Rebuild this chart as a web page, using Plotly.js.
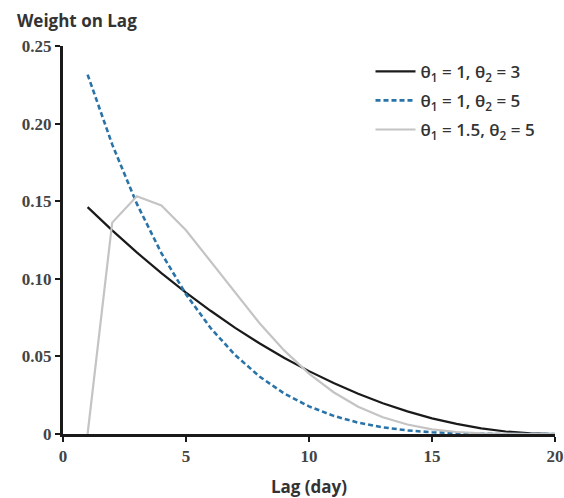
<!DOCTYPE html>
<html><head><meta charset="utf-8">
<script src="https://cdn.plot.ly/plotly-3.0.1.min.js"></script>
<style>body{margin:0;background:#fff}#chart{width:564px;height:498px}</style>
</head><body><div id="chart"></div>
<script>
const lags = [1,2,3,4,5,6,7,8,9,10,11,12,13,14,15,16,17,18,19,20];
const w_1_3 = [0.1462,0.1312,0.1170,0.1036,0.0911,0.0794,0.0684,0.0583,0.0490,0.0405,0.0328,0.0259,0.0198,0.0146,0.0101,0.0065,0.0036,0.0016,0.0004,0.0000];
const w_1_5 = [0.2316,0.1866,0.1484,0.1165,0.0900,0.0683,0.0508,0.0369,0.0260,0.0178,0.0117,0.0073,0.0043,0.0023,0.0011,0.0005,0.0001,0.0000,0.0000,0.0000];
const w_15_5 = [0.0000,0.1362,0.1532,0.1472,0.1313,0.1114,0.0908,0.0712,0.0537,0.0389,0.0269,0.0176,0.0108,0.0061,0.0030,0.0013,0.0004,0.0001,0.0000,0.0000];
const names = ['θ<sub>1</sub> = 1, θ<sub>2</sub> = 3','θ<sub>1</sub> = 1, θ<sub>2</sub> = 5','θ<sub>1</sub> = 1.5, θ<sub>2</sub> = 5'];
const xTicks = [0,5,10,15,20];
const yTicks = [0,0.05,0.10,0.15,0.20,0.25];
const yTickText = ['0','0.05','0.10','0.15','0.20','0.25'];

const traces = [
  {x:lags, y:w_1_3, name:names[0], legendgroup:'a', mode:'lines', line:{color:'#1a1a1a', width:2.2}},
  {x:lags, y:w_1_5, name:names[1], legendgroup:'b', mode:'lines', line:{color:'#2a73a8', width:2.6, dash:'5px,3px'}},
  {x:lags, y:w_15_5, name:names[2], legendgroup:'c', mode:'lines', line:{color:'#c4c4c4', width:2.2}}
];
const tickFont = {family:'Liberation Serif, serif', size:17, color:'#444'};
const layout = {
  width:564, height:498,
  margin:{l:63, r:9, t:46, b:64},
  paper_bgcolor:'#fff', plot_bgcolor:'#fff',
  showlegend:true,
  legend:{x:0.625, y:0.98, xanchor:'left', yanchor:'top', bgcolor:'rgba(0,0,0,0)',
    itemwidth:40, tracegroupgap:4,
    font:{family:'Open Sans, sans-serif', size:17, color:'#333', weight:600}},
  title:{text:'<b>Weight on Lag</b>', x:0.03, xref:'container', xanchor:'left', y:0.958, yref:'container', yanchor:'middle',
    font:{family:'Open Sans, sans-serif', size:17, color:'#333'}},
  xaxis:{range:[0,20], tickvals:xTicks, ticktext:xTicks.map(t => '<b>' + t + '</b>'), showgrid:false, zeroline:false,
    showline:true, linecolor:'#1a1a1a', linewidth:3, ticks:'outside', ticklen:5, tickwidth:2, tickcolor:'#1a1a1a',
    tickfont:tickFont,
    title:{text:'<b>Lag (day)</b>', font:{family:'Open Sans, sans-serif', size:17, color:'#333'}, standoff:16}},
  yaxis:{range:[0,0.25], tickvals:yTicks, ticktext:yTickText.map(t => '<b>' + t + '</b>'), showgrid:false, zeroline:false,
    showline:true, linecolor:'#1a1a1a', linewidth:3, ticks:'outside', ticklen:5, tickwidth:2, tickcolor:'#1a1a1a',
    tickfont:tickFont}
};
Plotly.newPlot('chart', traces, layout, {displayModeBar:false, staticPlot:true});
</script></body></html>
